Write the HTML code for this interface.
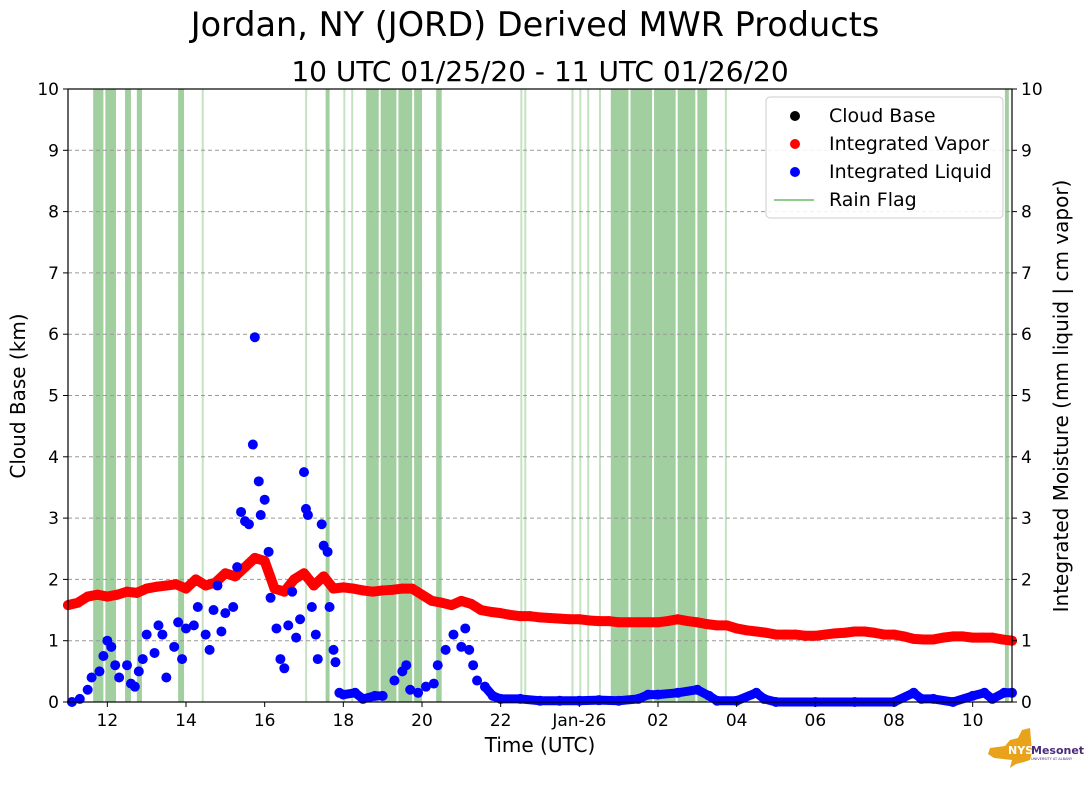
<!DOCTYPE html>
<html><head><meta charset="utf-8"><style>
body{margin:0;background:#fff;}
svg{font-family:"DejaVu Sans","Liberation Sans",sans-serif;}
</style></head><body>
<svg id="chart" width="1089" height="804" viewBox="0 0 1089 804" xmlns="http://www.w3.org/2000/svg">
<text x="535" y="36" font-size="33.5" text-anchor="middle">Jordan, NY (JORD) Derived MWR Products</text>
<text x="540" y="81" font-size="28" text-anchor="middle">10 UTC 01/25/20 - 11 UTC 01/26/20</text>
<g id="bands"></g>
<g id="grid"></g>
<g id="marks"></g>
<rect x="68" y="89" width="944" height="613" fill="none" stroke="#000" stroke-width="1.2"/>
<g id="axes" font-size="17"></g>
<text x="540" y="752" font-size="20" text-anchor="middle">Time (UTC)</text>
<text transform="translate(25,396) rotate(-90)" font-size="20" text-anchor="middle">Cloud Base (km)</text>
<text transform="translate(1068,396) rotate(-90)" font-size="20" text-anchor="middle">Integrated Moisture (mm liquid | cm vapor)</text>
<g>
<rect x="766" y="97" width="237" height="121" rx="4" fill="#fff" fill-opacity="0.85" stroke="#ccc"/>
<circle cx="795" cy="116" r="5" fill="#000"/>
<text x="829" y="122" font-size="19">Cloud Base</text>
<circle cx="795" cy="144" r="5" fill="red"/>
<text x="829" y="150" font-size="19">Integrated Vapor</text>
<circle cx="795" cy="172" r="5" fill="blue"/>
<text x="829" y="178" font-size="19">Integrated Liquid</text>
<line x1="774" y1="200" x2="814" y2="200" stroke="#6dbb6a" stroke-width="1.5"/>
<text x="829" y="206" font-size="19">Rain Flag</text>
</g>
<g>
<path d="M990 748 L1005 746 L1010 740 L1018 738 L1022 730 L1030 728 L1032 752 L1030 760 L1024 762 L1016 764 L1010 768 L1012 760 L994 758 L988 754 Z" fill="#e8a31b"/>
<text x="1008" y="754" font-size="11" font-weight="bold" fill="#fff">NYS</text>
<text x="1031" y="754" font-size="11" font-weight="bold" fill="#4b2a7b">Mesonet</text>
<text x="1031" y="760" font-size="3.5" fill="#4b2a7b">UNIVERSITY AT ALBANY</text>
</g>
</svg>
<script>
const vaporTimes=[11.0,11.25,11.5,11.75,12.0,12.25,12.5,12.75,13.0,13.25,13.5,13.75,14.0,14.25,14.5,14.75,15.0,15.25,15.5,15.75,16.0,16.25,16.5,16.75,17.0,17.25,17.5,17.75,18.0,18.25,18.5,18.75,19.0,19.25,19.5,19.75,20.0,20.25,20.5,20.75,21.0,21.25,21.5,21.75,22.0,22.25,22.5,22.75,23.0,23.25,23.5,23.75,24.0,24.25,24.5,24.75,25.0,25.25,25.5,25.75,26.0,26.25,26.5,26.75,27.0,27.25,27.5,27.75,28.0,28.25,28.5,28.75,29.0,29.25,29.5,29.75,30.0,30.25,30.5,30.75,31.0,31.25,31.5,31.75,32.0,32.25,32.5,32.75,33.0,33.25,33.5,33.75,34.0,34.25,34.5,34.75,35.0];
const vaporValues=[1.58,1.62,1.72,1.75,1.72,1.75,1.8,1.78,1.85,1.88,1.9,1.92,1.85,2.0,1.9,1.95,2.1,2.05,2.2,2.35,2.3,1.85,1.8,2.0,2.1,1.9,2.05,1.85,1.87,1.85,1.82,1.8,1.82,1.83,1.85,1.85,1.75,1.65,1.62,1.58,1.65,1.6,1.5,1.47,1.45,1.42,1.4,1.4,1.38,1.37,1.36,1.35,1.35,1.33,1.32,1.32,1.3,1.3,1.3,1.3,1.3,1.32,1.35,1.32,1.3,1.27,1.25,1.25,1.2,1.17,1.15,1.13,1.1,1.1,1.1,1.08,1.08,1.1,1.12,1.13,1.15,1.15,1.13,1.1,1.1,1.07,1.03,1.02,1.02,1.05,1.07,1.07,1.05,1.05,1.05,1.02,1.0];
const liquidTimes=[11.1,11.3,11.5,11.6,11.8,11.9,12.0,12.1,12.2,12.3,12.5,12.6,12.7,12.8,12.9,13.0,13.2,13.3,13.4,13.5,13.7,13.8,13.9,14.0,14.2,14.3,14.5,14.6,14.7,14.8,14.9,15.0,15.2,15.3,15.4,15.5,15.6,15.7,15.75,15.85,15.9,16.0,16.1,16.15,16.3,16.4,16.5,16.6,16.7,16.8,16.9,17.0,17.05,17.1,17.2,17.3,17.35,17.45,17.5,17.6,17.65,17.75,17.8,17.9,18.0,18.3,18.5,18.8,19.0,19.3,19.5,19.6,19.7,19.9,20.1,20.3,20.4,20.6,20.8,21.0,21.1,21.2,21.3,21.4,21.6,21.8,22.0,22.5,23.0,23.5,24.0,24.5,25.0,25.5,25.75,26.0,26.5,27.0,27.3,27.5,28.0,28.5,28.7,29.0,30.0,31.0,32.0,32.5,32.7,33.0,33.5,34.0,34.3,34.5,34.8,35.0];
const liquidValues=[0,0.05,0.2,0.4,0.5,0.75,1.0,0.9,0.6,0.4,0.6,0.3,0.25,0.5,0.7,1.1,0.8,1.25,1.1,0.4,0.9,1.3,0.7,1.2,1.25,1.55,1.1,0.85,1.5,1.9,1.15,1.45,1.55,2.2,3.1,2.95,2.9,4.2,5.95,3.6,3.05,3.3,2.45,1.7,1.2,0.7,0.55,1.25,1.8,1.05,1.35,3.75,3.15,3.05,1.55,1.1,0.7,2.9,2.55,2.45,1.55,0.85,0.65,0.15,0.12,0.15,0.05,0.1,0.1,0.35,0.5,0.6,0.2,0.15,0.25,0.3,0.6,0.85,1.1,0.9,1.2,0.85,0.6,0.35,0.25,0.1,0.05,0.05,0.02,0.02,0.02,0.03,0.02,0.05,0.12,0.12,0.15,0.2,0.1,0.02,0.02,0.15,0.05,0,0,0,0,0.15,0.05,0.05,0,0.1,0.15,0.05,0.15,0.15];
const rainStarts=[11.64,11.95,12.45,12.75,13.8,14.4,17.03,17.55,18.0,18.2,18.58,18.95,19.4,19.8,20.36,22.5,22.6,23.8,24.0,24.2,24.5,24.8,25.3,25.9,26.5,27.0,27.7,34.82];
const rainEnds=[11.9,12.22,12.6,12.88,13.95,14.45,17.08,17.65,18.05,18.25,18.9,19.35,19.75,20.0,20.5,22.55,22.65,23.85,24.05,24.25,24.55,25.25,25.85,26.45,26.95,27.25,27.75,34.92];
const yTicks=[0,1,2,3,4,5,6,7,8,9,10];
const xTickHours=[12,14,16,18,20,22,24,26,28,30,32,34];
const xTickLabels=["12","14","16","18","20","22","Jan-26","02","04","06","08","10"];

const X0=68,X1=1012,Y0=702,Y1=89,T0=11,T1=35,V0=0,V1=10;
const xs=t=>X0+(t-T0)/(T1-T0)*(X1-X0);
const ys=v=>Y0-(v-V0)/(V1-V0)*(Y0-Y1);
const NS="http://www.w3.org/2000/svg";
function mk(tag,attrs,parent){const e=document.createElementNS(NS,tag);for(const k in attrs)e.setAttribute(k,attrs[k]);parent.appendChild(e);return e;}
const bands=document.getElementById('bands'),grid=document.getElementById('grid'),marks=document.getElementById('marks'),axes=document.getElementById('axes');
rainStarts.forEach((s,i)=>{
  const w=Math.max(2,xs(rainEnds[i])-xs(s));
  const r=mk('rect',{x:xs(s),y:Y1,width:w,height:Y0-Y1,fill:w>3?'#a2cfa0':'#c4e2c2'},bands);
  
  
});
yTicks.forEach(v=>{
  const y=ys(v);
  if(v>0&&v<10){const g=mk('line',{x1:X0,x2:X1,y1:y,y2:y,stroke:'#999','stroke-dasharray':'4,3','stroke-width':1},grid);
  
  }
  mk('line',{x1:X0-5,x2:X0,y1:y,y2:y,stroke:'#000'},axes);
  mk('line',{x1:X1,x2:X1+5,y1:y,y2:y,stroke:'#000'},axes);
  const tl=mk('text',{x:X0-9,y:y+6,'text-anchor':'end'},axes);tl.textContent=v;
  
  
  const tr=mk('text',{x:X1+9,y:y+6},axes);tr.textContent=v;
  
  
});
xTickHours.forEach((h,i)=>{
  const x=xs(h);
  mk('line',{x1:x,x2:x,y1:Y0,y2:Y0+5,stroke:'#000'},axes);
  const t=mk('text',{x:x,y:Y0+24,'text-anchor':'middle'},axes);t.textContent=xTickLabels[i];
  
  
});
const vline=mk('polyline',{points:vaporTimes.map((t,i)=>xs(t)+','+ys(vaporValues[i])).join(' '),fill:'none',stroke:'red','stroke-width':10,'stroke-linejoin':'round','stroke-linecap':'round'},marks);


vaporTimes.forEach((t,i)=>{
  const c=mk('circle',{cx:xs(t),cy:ys(vaporValues[i]),r:5,fill:'red'},marks);
  
  
});
const segA=[],segB=[];
liquidTimes.forEach((t,i)=>{
  if(t>=17.9&&t<=19.2)segA.push(xs(t)+','+ys(liquidValues[i]));
  if(t>=21.6)segB.push(xs(t)+','+ys(liquidValues[i]));
});
[segA,segB].forEach(seg=>{
  const l=mk('polyline',{points:seg.join(' '),fill:'none',stroke:'blue','stroke-width':9,'stroke-linejoin':'round','stroke-linecap':'round'},marks);
  
  
});
liquidTimes.forEach((t,i)=>{
  const c=mk('circle',{cx:xs(t),cy:ys(liquidValues[i]),r:5,fill:'blue'},marks);
  
  
});
</script>
</body></html>
